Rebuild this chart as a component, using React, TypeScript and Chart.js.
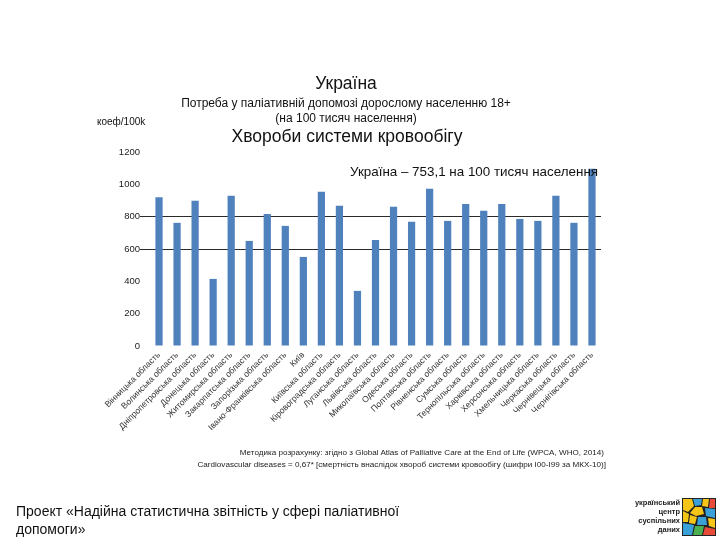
import React, { useEffect, useRef } from "react";
import { Chart, registerables } from "chart.js";

Chart.register(...registerables);

const regions: string[] = [
  "Вінницька область",
  "Волинська область",
  "Дніпропетровська область",
  "Донецька область",
  "Житомирська область",
  "Закарпатська область",
  "Запорізька область",
  "Івано-Франківська область",
  "Київ",
  "Київська область",
  "Кіровоградська область",
  "Луганська область",
  "Львівська область",
  "Миколаївська область",
  "Одеська область",
  "Полтавська область",
  "Рівненська область",
  "Сумська область",
  "Тернопільська область",
  "Харківська область",
  "Херсонська область",
  "Хмельницька область",
  "Черкаська область",
  "Чернівецька область",
  "Чернігівська область",
];

const needValues: number[] = [
  920, 762, 898, 415, 929, 650, 817, 743, 551, 954, 867, 341, 656,
  861, 768, 972, 774, 879, 836, 879, 786, 774, 929, 762, 1096,
];

const yTicks: number[] = [0, 200, 400, 600, 800, 1000, 1200];
const refLines: number[] = [600, 800];

const FONT = "'Liberation Sans', Arial, sans-serif";

export default function App() {
  const canvasRef = useRef<HTMLCanvasElement | null>(null);

  useEffect(() => {
    if (!canvasRef.current) return;
    const chart = new Chart(canvasRef.current, {
      type: "bar",
      data: {
        labels: regions,
        datasets: [
          {
            data: needValues,
            backgroundColor: "#4F81BD",
            borderWidth: 0,
            barPercentage: 0.4,
            categoryPercentage: 1,
          },
        ],
      },
      options: {
        responsive: false,
        animation: false,
        maintainAspectRatio: false,
        layout: { padding: { left: 0, right: 119, top: 152, bottom: 90 } },
        plugins: {
          legend: { display: false },
          tooltip: { enabled: false },
          title: { display: false },
        },
        scales: {
          x: {
            afterFit: (s: any) => {
              s.height = 104;
            },
            grid: { display: false, drawTicks: false },
            border: { display: false },
            ticks: {
              autoSkip: false,
              maxRotation: 45,
              minRotation: 45,
              padding: 4,
              color: "#333",
              font: { family: FONT, size: 8.6 },
            },
          },
          y: {
            min: 0,
            max: 1200,
            afterFit: (s: any) => {
              s.width = 150;
            },
            afterBuildTicks: (s: any) => {
              s.ticks = yTicks.map((v) => ({ value: v }));
            },
            border: { display: false },
            grid: {
              drawTicks: true,
              tickLength: 10,
              color: (ctx: any) =>
                ctx.tick && refLines.includes(ctx.tick.value) ? "#2b2b2b" : "rgba(0,0,0,0)",
              lineWidth: 1,
            },
            ticks: {
              padding: 0,
              color: "#222",
              font: { family: FONT, size: 9.5 },
              callback: (v: any) => String(v),
            },
          },
        },
      },
    });
    return () => chart.destroy();
  }, []);

  const abs = (style: React.CSSProperties): React.CSSProperties => ({
    position: "absolute",
    fontFamily: FONT,
    color: "#111",
    whiteSpace: "nowrap",
    lineHeight: 1,
    ...style,
  });

  return (
    <div
      style={{
        position: "absolute",
        left: 0,
        top: 0,
        width: 720,
        height: 540,
        background: "#fff",
        overflow: "hidden",
      }}
    >
      <canvas ref={canvasRef} width={720} height={540} style={{ position: "absolute", left: 0, top: 0 }} />
      <div style={abs({ left: 0, width: 692, top: 75, textAlign: "center", fontSize: 17.5 })}>Україна</div>
      <div style={abs({ left: 0, width: 692, top: 97, textAlign: "center", fontSize: 12 })}>
        Потреба у паліативній допомозі дорослому населенню 18+
      </div>
      <div style={abs({ left: 0, width: 692, top: 112, textAlign: "center", fontSize: 12 })}>
        (на 100 тисяч населення)
      </div>
      <div style={abs({ left: 0, width: 694, top: 128, textAlign: "center", fontSize: 17.5 })}>
        Хвороби системи кровообігу
      </div>
      <div style={abs({ left: 97, top: 117, fontSize: 10 })}>коеф/100k</div>
      <div style={abs({ left: 350, top: 165, fontSize: 13.4 })}>Україна – 753,1 на 100 тисяч населення</div>
      <div style={abs({ right: 116, top: 449, fontSize: 8.1, textAlign: "right", color: "#222" })}>
        Методика розрахунку: згідно з Global Atlas of Palliative Care at the End of Life (WPCA, WHO, 2014)
      </div>
      <div style={abs({ right: 114, top: 461, fontSize: 8.1, textAlign: "right", color: "#222" })}>
        Cardiovascular diseases = 0,67* [смертність внаслідок хвороб системи кровообігу (шифри I00-I99 за МКХ-10)]
      </div>
      <div style={abs({ left: 16, top: 502, fontSize: 14, lineHeight: "18px", whiteSpace: "normal", width: 410 })}>
        Проект «Надійна статистична звітність у сфері паліативної допомоги»
      </div>
      <div
        style={abs({
          left: 626,
          top: 498,
          width: 54,
          fontSize: 7.5,
          fontWeight: "bold",
          textAlign: "right",
          lineHeight: "9px",
          color: "#222",
        })}
      >
        український
        <br />
        центр
        <br />
        суспільних
        <br />
        даних
      </div>
      <svg
        style={{ position: "absolute", left: 682, top: 498 }}
        width={34}
        height={38}
        viewBox="0 0 34 38"
      >
        <rect x={0} y={0} width={34} height={38} fill="#222" />
        <polygon points="1,1 10,1 12,8 6,14 1,12" fill="#f5c518" />
        <polygon points="11,1 20,1 19,7 13,8" fill="#3aa0d8" />
        <polygon points="21,1 27,1 26,9 20,8" fill="#f5c518" />
        <polygon points="28,1 33,1 33,10 27,10" fill="#e84b3a" />
        <polygon points="13,9 20,9 22,16 14,18 8,15" fill="#f5c518" />
        <polygon points="1,13 7,16 6,24 1,24" fill="#f5c518" />
        <polygon points="23,10 33,11 33,20 24,18" fill="#3aa0d8" />
        <polygon points="8,17 15,19 13,26 7,25" fill="#f5c518" />
        <polygon points="16,19 24,19 25,27 15,27" fill="#3aa0d8" />
        <polygon points="26,20 33,21 33,30 27,28" fill="#f5c518" />
        <polygon points="1,25 12,27 10,37 1,37" fill="#3aa0d8" />
        <polygon points="13,28 22,28 20,37 11,37" fill="#4caf50" />
        <polygon points="23,29 33,31 33,37 21,37" fill="#e84b3a" />
      </svg>
    </div>
  );
}
